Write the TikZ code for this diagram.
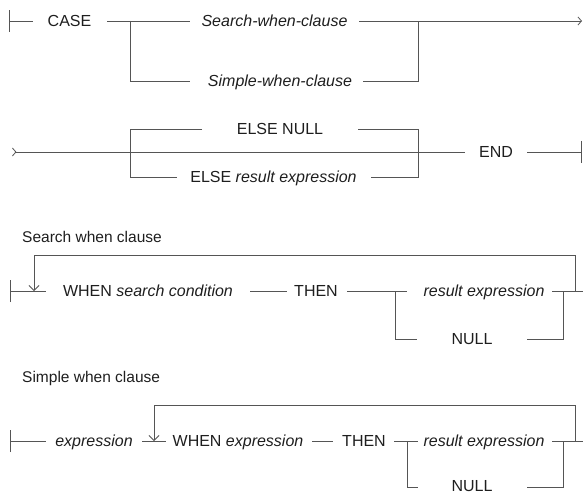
\documentclass[tikz,border=0pt]{standalone}
\usepackage{fontspec}
\setmainfont{Liberation Sans}
\usetikzlibrary{arrows.meta}
\definecolor{wire}{HTML}{555555}
\definecolor{ink}{HTML}{1E1E1E}
\begin{document}
\begin{tikzpicture}[x=1pt,y=-1pt,
  wireline/.style={draw=wire,line width=0.9pt},
  lbl/.style={inner sep=0pt,text height=11.5pt,text depth=0pt,text=ink,font=\fontsize{16}{18}\selectfont},
  title/.style={inner sep=0pt,text=ink,anchor=base west,font=\fontsize{15.5}{18}\selectfont},
  starttick/.style={{Bar[width=22pt,line width=0.9pt]}-},
  endtick/.style={-{Bar[width=22pt,line width=0.9pt]}},
  contarrow/.style={-{Straight Barb[length=3.5pt,width=8pt,line width=0.8pt]}},
  contin/.style={{Straight Barb[reversed,length=3.5pt,width=8pt,line width=0.8pt]}-},
  looparrow/.style={-{Straight Barb[length=5pt,width=10pt,line width=0.8pt]}}]
\useasboundingbox (0,0) rectangle (583,494);

% ---------------- CASE ... (first line) ----------------
\node[lbl] (case) at (69.5,21) {CASE};
\node[lbl] (srch) at (274.5,21) {\itshape Search-when-clause};
\node[lbl] (simp) at (280,81) {\itshape Simple-when-clause};
\coordinate (a0) at (9,21);
\coordinate (a1) at (33,21);
\coordinate (a2) at (107,21);
\coordinate (aj) at (130,21);
\coordinate (ajb) at (130,81);
\coordinate (a3) at (190,21);
\coordinate (a4) at (190,81);
\coordinate (a5) at (359,21);
\coordinate (a6) at (363,81);
\coordinate (ak) at (418,21);
\coordinate (akb) at (418,81);
\coordinate (aend) at (582,21);
\draw[wireline,starttick] (a0) -- (a1);
\draw[wireline] (a2) -- (a3);
\draw[wireline] (aj) -- (ajb) -- (a4);
\draw[wireline,contarrow] (a5) -- (aend);
\draw[wireline] (a6) -- (akb) -- (ak);

% ---------------- ELSE ... END (second line) ----------------
\node[lbl] (enull) at (280,129) {ELSE NULL};
\node[lbl] (eres) at (273.5,177) {ELSE \itshape result expression};
\node[lbl] (endk) at (496,152) {END};
\coordinate (b0) at (12,152);
\coordinate (bjt) at (130,129);
\coordinate (bjb) at (130,177);
\coordinate (b1) at (202,129);
\coordinate (b2) at (177,177);
\coordinate (b3) at (358,129);
\coordinate (b4) at (371,177);
\coordinate (bkt) at (418,129);
\coordinate (bkb) at (418,177);
\coordinate (b5) at (465,152);
\coordinate (b6) at (527,152);
\coordinate (bend) at (582,152);
\draw[wireline,contin] (b0) -- (b5);
\draw[wireline] (b1) -- (bjt) -- (bjb) -- (b2);
\draw[wireline] (b3) -- (bkt) -- (bkb) -- (b4);
\draw[wireline,endtick] (b6) -- (bend);

% ---------------- Search when clause ----------------
\node[title] (stitle) at (22,243) {Search when clause};
\node[lbl] (swhen) at (148,291) {WHEN \itshape search condition};
\node[lbl] (sthen) at (316,291) {THEN};
\node[lbl] (sres) at (484,291) {\itshape result expression};
\node[lbl] (snull) at (472,339) {NULL};
\coordinate (c0) at (10,291);
\coordinate (c1) at (46,291);
\coordinate (cl) at (34,291);
\coordinate (clt) at (34,255);
\coordinate (crt) at (575,255);
\coordinate (cr) at (575,291);
\coordinate (c2) at (250,291);
\coordinate (c3) at (287,291);
\coordinate (c4) at (347,291);
\coordinate (c5) at (407,291);
\coordinate (cj) at (395,291);
\coordinate (cjb) at (395,339);
\coordinate (c6) at (417,339);
\coordinate (c7) at (552,291);
\coordinate (c8) at (583,291);
\coordinate (c9) at (527,339);
\coordinate (ck) at (563,291);
\coordinate (ckb) at (563,339);
\draw[wireline,starttick] (c0) -- (c1);
\draw[wireline,looparrow] (cr) -- (crt) -- (clt) -- (cl);
\draw[wireline] (c2) -- (c3);
\draw[wireline] (c4) -- (c5);
\draw[wireline] (cj) -- (cjb) -- (c6);
\draw[wireline] (c7) -- (c8);
\draw[wireline] (c9) -- (ckb) -- (ck);

% ---------------- Simple when clause ----------------
\node[title] (ptitle) at (22,382) {Simple when clause};
\node[lbl] (pexp) at (94,441) {\itshape expression};
\node[lbl] (pwhen) at (238,441) {WHEN \itshape expression};
\node[lbl] (pthen) at (364,441) {THEN};
\node[lbl] (pres) at (484,441) {\itshape result expression};
\node[lbl] (pnull) at (472,485.5) {NULL};
\coordinate (d0) at (10,441);
\coordinate (d1) at (46,441);
\coordinate (d2) at (142,441);
\coordinate (d3) at (166,441);
\coordinate (dl) at (154,441);
\coordinate (dlt) at (154,405);
\coordinate (drt) at (575,405);
\coordinate (dr) at (575,441);
\coordinate (d4) at (312,441);
\coordinate (d5) at (333,441);
\coordinate (d6) at (394,441);
\coordinate (d7) at (418,441);
\coordinate (dj) at (407,441);
\coordinate (djb) at (407,487);
\coordinate (d8) at (418,487);
\coordinate (d9) at (552,441);
\coordinate (d10) at (583,441);
\coordinate (d11) at (527,487);
\coordinate (dk) at (563,441);
\coordinate (dkb) at (563,487);
\draw[wireline,starttick] (d0) -- (d1);
\draw[wireline] (d2) -- (d3);
\draw[wireline,looparrow] (dr) -- (drt) -- (dlt) -- (dl);
\draw[wireline] (d4) -- (d5);
\draw[wireline] (d6) -- (d7);
\draw[wireline] (dj) -- (djb) -- (d8);
\draw[wireline] (d9) -- (d10);
\draw[wireline] (d11) -- (dkb) -- (dk);
\end{tikzpicture}
\end{document}
